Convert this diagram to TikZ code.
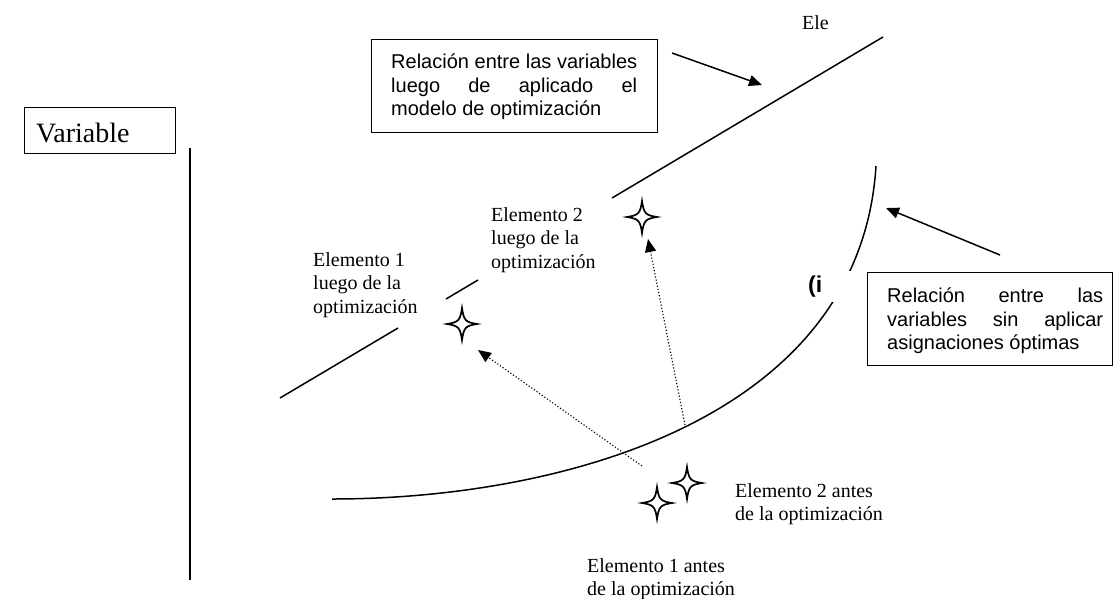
\documentclass[tikz,border=0pt]{standalone}
\usepackage{fontspec}
\setmainfont{Liberation Serif}
\setsansfont{Liberation Sans}
\usetikzlibrary{arrows.meta}
\begin{document}
\begin{tikzpicture}[x=1pt,y=-1pt,
  ln/.style={line width=1.5pt},
  boxed/.style={draw, line width=1.2pt, inner sep=0pt, anchor=north west},
  serif/.style={font=\fontsize{20pt}{23.5pt}\selectfont, inner sep=0pt, align=left},
  sans/.style={font=\sffamily\fontsize{20pt}{23.5pt}\selectfont, inner sep=0pt, align=left},
  tip/.style={-{Triangle[length=13pt,width=11pt]}},
  dots/.style={line width=1.1pt, dash pattern=on 1.2pt off 2pt},
  sparkle/.pic={\draw[line width=1.7pt] (0,-16) .. controls (1.8,-3.5) and (3.5,-1.8) .. (15,0) .. controls (3.5,1.8) and (1.8,3.5) .. (0,16) .. controls (-1.8,3.5) and (-3.5,1.8) .. (-15,0) .. controls (-3.5,-1.8) and (-1.8,-3.5) .. cycle;}
]
\useasboundingbox (0,0) rectangle (1113,598);

% Variable box and axis
\node[boxed, minimum width=151pt, minimum height=46pt] (varbox) at (24,107) {};
\node[serif, anchor=base west, font=\fontsize{28pt}{31pt}\selectfont] (vartext) at (36,142) {Variable};
\coordinate (axtop) at (190,148);
\coordinate (axbot) at (190,580);
\draw[ln] (axtop) -- (axbot);

% upper straight line (after optimization), interrupted by labels
\coordinate (u0) at (280,398);
\coordinate (u1) at (398,328);
\coordinate (u2) at (446,299);
\coordinate (u3) at (478,280);
\coordinate (u4) at (612,198);
\coordinate (u5) at (883,37);
\draw[ln] (u0) -- (u1);
\draw[ln] (u2) -- (u3);
\draw[ln] (u4) -- (u5);

% lower curve (before optimization)
\coordinate (k0) at (332,499);
\coordinate (k1) at (876,166);
\draw[ln] (k0) .. controls (560,499) and (860,420) .. (k1);
\node[fill=white, anchor=north west, inner xsep=8pt, inner ysep=0pt, minimum height=31pt, text width=40pt, align=left, font=\sffamily\bfseries\fontsize{23pt}{26pt}\selectfont] (ilab) at (800,271) {(i};

% top labels
\node[serif, anchor=base west] (ele) at (802,29) {Ele};

% box 1
\node[boxed, minimum width=286pt, minimum height=93.4pt] (box1) at (371,38.6) {};
\node[sans, anchor=north west] (box1text) at (391,54) {\makebox[246pt][s]{Relación entre las variables}\\ \makebox[246pt][s]{luego de aplicado el}\\ modelo de optimización};
\coordinate (a1s) at (672,53);
\coordinate (a1e) at (762,85);
\draw[ln, tip] (a1s) -- (a1e);

% box 2
\node[boxed, minimum width=245pt, minimum height=93pt] (box2) at (867,272) {};
\node[sans, anchor=north west] (box2text) at (887,288) {\makebox[216pt][s]{Relación entre las}\\ \makebox[216pt][s]{variables sin aplicar}\\ asignaciones óptimas};
\coordinate (a2s) at (1000,255);
\coordinate (a2e) at (886,208);
\draw[ln, tip] (a2s) -- (a2e);

% element labels
\node[serif, anchor=north west] (e2after) at (491,207.3) {Elemento 2\\ luego de la\\ optimización};
\node[serif, anchor=north west] (e1after) at (313,252.3) {Elemento 1\\ luego de la\\ optimización};
\node[serif, anchor=north west] (e2before) at (735,483.3) {Elemento 2 antes\\ de la optimización};
\node[serif, anchor=north west] (e1before) at (587,558.3) {Elemento 1 antes\\ de la optimización};

% stars
\coordinate (s2a) at (642,217);
\coordinate (s1a) at (462,324);
\coordinate (s1b) at (657,503);
\coordinate (s2b) at (687,483);
\pic at (s2a) {sparkle};
\pic at (s1a) {sparkle};
\pic at (s1b) {sparkle};
\pic at (s2b) {sparkle};

% dotted movement arrows
\coordinate (d1s) at (642,466);
\coordinate (d1e) at (478,350);
\coordinate (d2s) at (685,425);
\coordinate (d2e) at (648,239);
\draw[dots, tip] (d1s) -- (d1e);
\draw[dots, tip] (d2s) -- (d2e);
\end{tikzpicture}
\end{document}
